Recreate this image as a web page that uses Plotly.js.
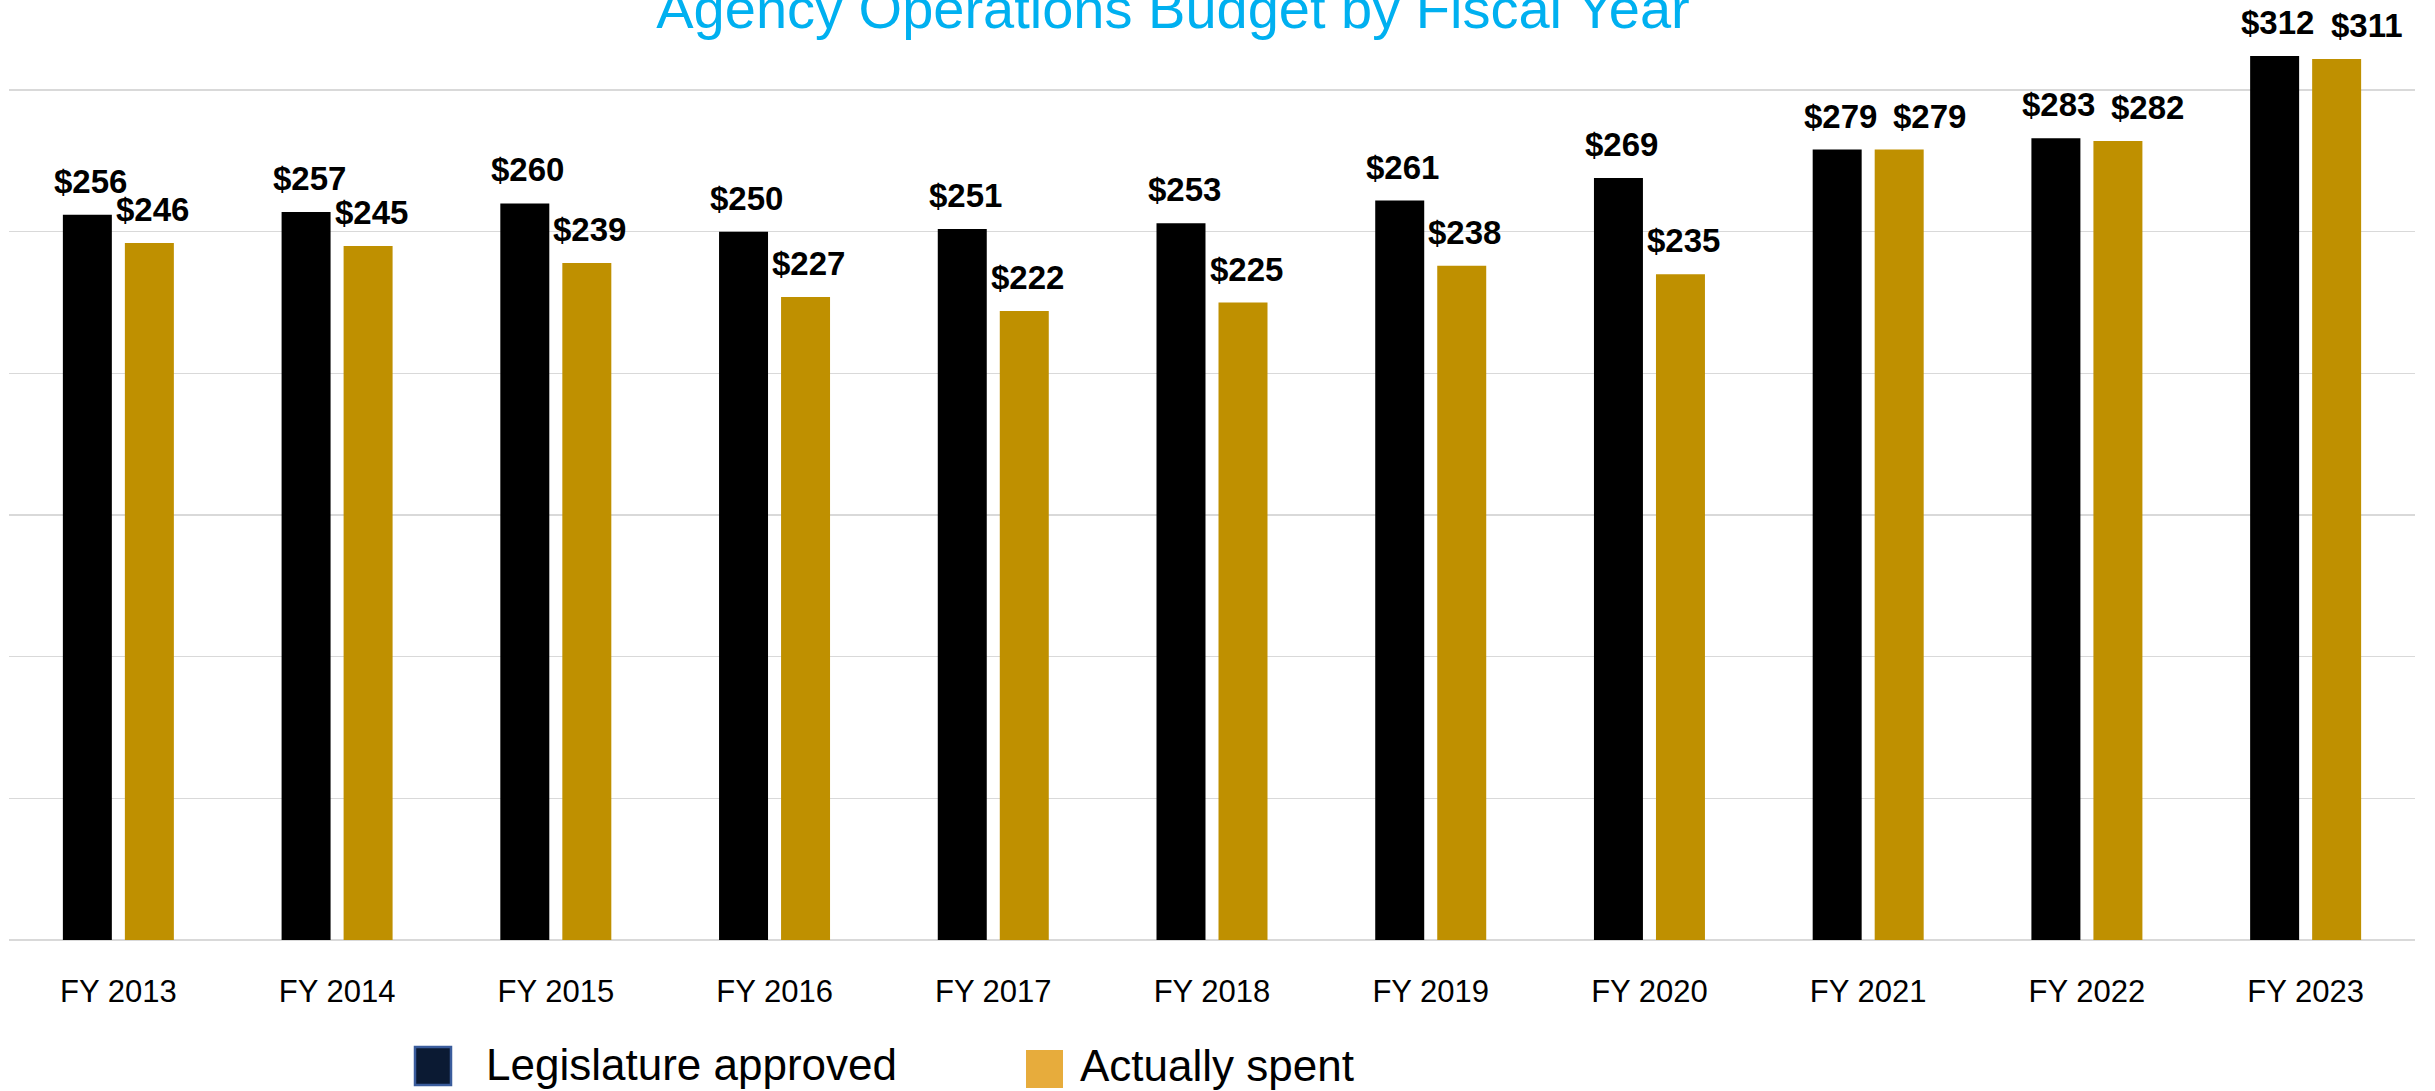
<!DOCTYPE html>
<html>
<head>
<meta charset="utf-8">
<script src="https://cdn.plot.ly/plotly-3.0.1.min.js"></script>
<style>
  html, body { margin: 0; padding: 0; background: #ffffff; }
  #chart { width: 2435px; height: 1091px; }
</style>
</head>
<body>
<div id="chart"></div>
<script>
// ---- Data (millions of dollars) ----
const categories = ["FY 2013", "FY 2014", "FY 2015", "FY 2016", "FY 2017", "FY 2018",
                    "FY 2019", "FY 2020", "FY 2021", "FY 2022", "FY 2023"];
const approved = [256, 257, 260, 250, 251, 253, 261, 269, 279, 283, 312];
const spent    = [246, 245, 239, 227, 222, 225, 238, 235, 279, 282, 311];
const seriesNames = ["Legislature approved", "Actually spent"];
const titleText = "Agency Operations Budget by Fiscal Year";

// ---- Layout helpers (pixel -> paper) ----
const W = 2435, H = 1091;
const M = { l: 9, r: 20, t: 0, b: 151 };
const PW = W - M.l - M.r, PH = H - M.t - M.b;
const px = x => (x - M.l) / PW;
const py = y => (M.t + PH - y) / PH;
const Y_MAX = 331.8;
const pxPerUnit = PH / Y_MAX;

const FONT = "Liberation Sans, Arial, sans-serif";

const traces = [
  {
    type: "bar", name: seriesNames[0], x: categories, y: approved,
    marker: { color: "#000000", line: { width: 0 } },
    showlegend: false, hoverinfo: "x+y"
  },
  {
    type: "bar", name: seriesNames[1], x: categories, y: spent,
    marker: { color: "#BF9000", line: { width: 0 } },
    showlegend: false, hoverinfo: "x+y"
  }
];

// data labels from the arrays
const annotations = [];
const fmt = v => "$" + v;
categories.forEach((c, i) => {
  // when both labels sit at nearly the same height, nudge the second one right
  const close = Math.abs(approved[i] - spent[i]) * pxPerUnit < 26;
  annotations.push({
    x: c, y: approved[i], xref: "x", yref: "y", text: fmt(approved[i]),
    showarrow: false, xanchor: "center", yanchor: "bottom", xshift: -28, yshift: 13,
    font: { family: FONT, size: 33, color: "#000000", weight: "bold" }
  });
  annotations.push({
    x: c, y: spent[i], xref: "x", yref: "y", text: fmt(spent[i]),
    showarrow: false, xanchor: "center", yanchor: "bottom", xshift: close ? 61 : 34, yshift: 13,
    font: { family: FONT, size: 33, color: "#000000", weight: "bold" }
  });
});

// custom legend (large swatches)
annotations.push({
  xref: "paper", yref: "paper", x: px(485), y: py(1064), xanchor: "left", yanchor: "middle",
  borderpad: 0,
  text: seriesNames[0], showarrow: false, font: { family: FONT, size: 44, color: "#000000" }
});
annotations.push({
  xref: "paper", yref: "paper", x: px(1079), y: py(1065), xanchor: "left", yanchor: "middle",
  borderpad: 0,
  text: seriesNames[1], showarrow: false, font: { family: FONT, size: 44, color: "#000000" }
});

const shapes = [
  { type: "rect", xref: "paper", yref: "paper", x0: px(415), x1: px(451), y0: py(1085), y1: py(1047),
    fillcolor: "#0B1A33", line: { color: "#3A5C9C", width: 2.5 } },
  { type: "rect", xref: "paper", yref: "paper", x0: px(1026), x1: px(1063), y0: py(1088), y1: py(1050),
    fillcolor: "#E7AC3C", line: { width: 0 } }
];

const layout = {
  width: W, height: H,
  margin: M,
  paper_bgcolor: "#ffffff", plot_bgcolor: "#ffffff",
  font: { family: FONT, color: "#000000" },
  title: {
    text: titleText,
    font: { family: FONT, size: 56, color: "#00B0F0" },
    xref: "paper", x: px(1173), xanchor: "center",
    yref: "container", y: 1 - 8.5 / H, yanchor: "middle"
  },
  barmode: "group",
  bargap: 0.433,
  bargroupgap: 0.21,
  showlegend: false,
  xaxis: {
    type: "category",
    showgrid: false, showline: false, zeroline: false,
    ticks: "", ticklabelstandoff: 30,
    tickfont: { family: FONT, size: 31, color: "#000000" }
  },
  yaxis: {
    range: [0, Y_MAX], tick0: 0, dtick: 50,
    showticklabels: false, ticks: "",
    showgrid: true, gridcolor: "#D9D9D9", gridwidth: 1.5,
    zeroline: true, zerolinecolor: "#D9D9D9", zerolinewidth: 2,
    showline: false, fixedrange: true
  },
  annotations: annotations,
  shapes: shapes
};

Plotly.newPlot("chart", traces, layout, { displayModeBar: false, staticPlot: true });
</script>
</body>
</html>
